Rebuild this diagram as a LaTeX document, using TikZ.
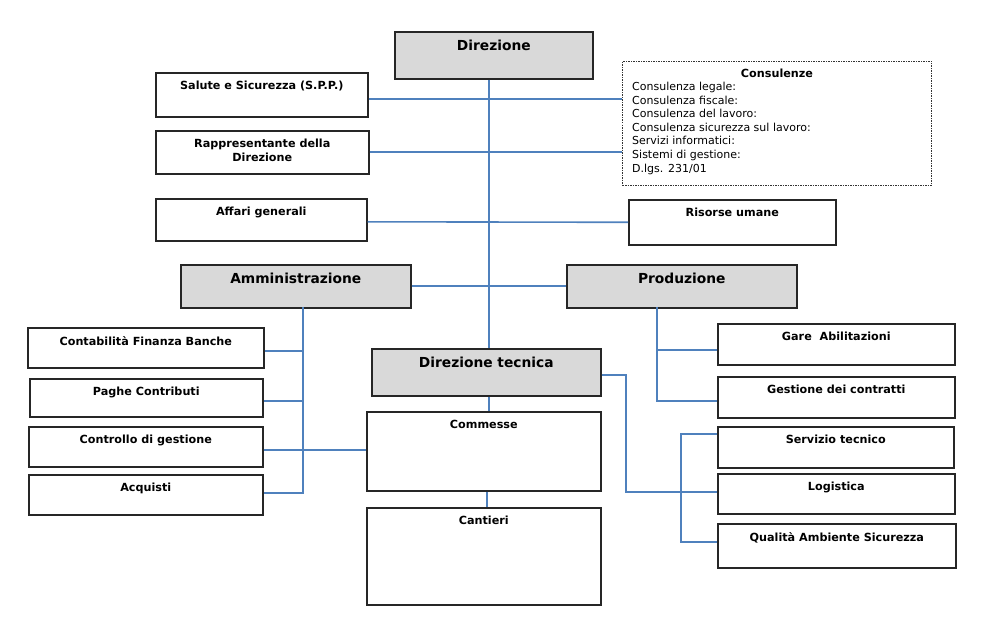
\documentclass[tikz,border=0pt]{standalone}
\usepackage{fontspec}
\setmainfont{DejaVu Sans}
\usetikzlibrary{positioning}
\definecolor{linkblue}{HTML}{4F81BD}
\definecolor{headgray}{HTML}{D9D9D9}
\tikzset{
  unit/.style 2 args={draw=black!85, line width=1.6pt, anchor=north west, inner sep=0pt,
                      minimum width=#1, minimum height=#2},
  chief/.style={fill=headgray},
  small/.style={anchor=north, yshift=-8pt, align=center, inner sep=1pt,
                font=\fontsize{11.2}{13.5}\selectfont\bfseries},
  big/.style={anchor=north, yshift=-8pt, inner sep=1pt,
              font=\fontsize{13.8}{16}\selectfont\bfseries},
  link/.style={draw=linkblue, line width=1.6pt}
}

\begin{document}
\begin{tikzpicture}[x=1pt, y=-1pt]
\useasboundingbox (0,0) rectangle (1004,636);

% top level
\node[unit={198}{47}, chief, label={[big]north:Direzione}] (dir) at (394,31) {};
\node[unit={212}{44}, label={[small]north:Salute e Sicurezza (S.P.P.)}] (spp) at (155,72) {};
\node[unit={213}{43}, label={[small]north:Rappresentante della\\Direzione}] (rdd) at (155,130) {};
\node[unit={211}{42}, label={[small]north:Affari generali}] (aff) at (155,198) {};
\node[unit={309}{124}, draw=black!80, line width=1pt, dash pattern=on 1.5pt off 1pt,
      label={[small, yshift=1.5pt]north:Consulenze},
      label={[anchor=north west, xshift=10pt, yshift=-21pt, align=left, inner sep=0pt,
              font=\fontsize{11}{13.6}\selectfont]north west:Consulenza legale:\\
              Consulenza fiscale:\\Consulenza del lavoro:\\Consulenza sicurezza sul lavoro:\\
              Servizi informatici:\\Sistemi di gestione:\\D.lgs. 231/01}] (cons) at (622,61) {};
\node[unit={207}{45}, label={[small]north:Risorse umane}] (ris) at (628,199) {};

% second level
\node[unit={230}{43}, chief, label={[big]north:Amministrazione}] (amm) at (180,264) {};
\node[unit={230}{43}, chief, label={[big]north:Produzione}] (prod) at (566,264) {};
\node[unit={229}{47}, chief, label={[big]north:Direzione tecnica}] (dtec) at (371,348) {};

% amministrazione
\node[unit={236}{40}, label={[small]north:Contabilità Finanza Banche}] (cfb) at (27,327) {};
\node[unit={233}{38}, label={[small]north:Paghe Contributi}] (pag) at (29,378) {};
\node[unit={234}{40}, label={[small]north:Controllo di gestione}] (con) at (28,426) {};
\node[unit={234}{40}, label={[small]north:Acquisti}] (acq) at (28,474) {};

% direzione tecnica
\node[unit={234}{79}, label={[small]north:Commesse}] (com) at (366,411) {};
\node[unit={234}{97}, label={[small]north:Cantieri}] (cant) at (366,507) {};

% produzione
\node[unit={237}{41}, label={[small]north:Gare\ \ Abilitazioni}] (gare) at (717,323) {};
\node[unit={237}{41}, label={[small]north:Gestione dei contratti}] (gdc) at (717,376) {};
\node[unit={236}{41}, label={[small]north:Servizio tecnico}] (sv) at (717,426) {};
\node[unit={237}{40}, label={[small]north:Logistica}] (log) at (717,473) {};
\node[unit={238}{44}, label={[small]north:Qualità Ambiente Sicurezza}] (qas) at (717,523) {};

\coordinate (abus) at (303,307);
\coordinate (pbus) at (657,307);
\coordinate (tbus) at (626,375);
\coordinate (sbus) at (681,434);

\path[link]
    ([xshift=-5pt]dir.south) edge ([xshift=-5pt]dir.south |- dtec.north)
    ([yshift=-4pt]spp.east) edge ([yshift=-4pt]spp.east -| cons.west)
    (rdd.east) edge (rdd.east -| cons.west)
    ([yshift=-2pt]aff.east) edge (ris.west)
    (amm.east) edge (prod.west)
    ([xshift=2.5pt]dtec.south) edge ([xshift=2.5pt]dtec.south |- com.north)
    ([xshift=3pt]com.south) edge ([xshift=3pt]com.south |- cant.north);

\draw[link] (abus) -- (abus |- 0,493) -- (acq.east |- 0,493);
\draw[link] (cfb.east |- 0,351) -- (abus |- 0,351);
\draw[link] (pag.east |- 0,401) -- (abus |- 0,401);
\draw[link] (con.east |- 0,450) -- (com.west |- 0,450);

\draw[link] (pbus) -- (pbus |- 0,401) -- (gdc.west |- 0,401);
\draw[link] (pbus |- 0,350) -- (gare.west |- 0,350);

\draw[link] (dtec.east |- tbus) -- (tbus) |- (log.west |- 0,492);
\draw[link] (sv.west |- sbus) -- (sbus) |- (qas.west |- 0,542);
\end{tikzpicture}
\end{document}
